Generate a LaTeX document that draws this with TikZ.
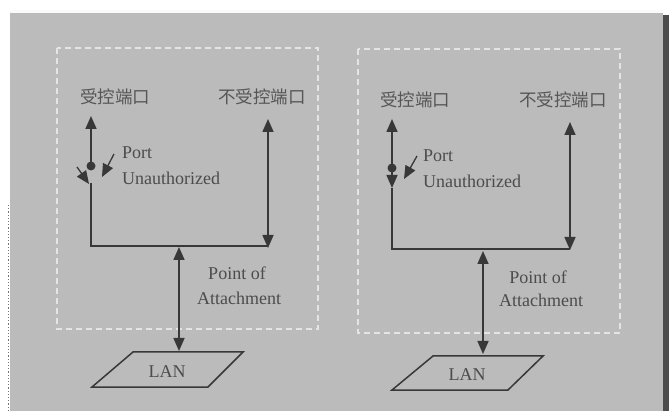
\documentclass[tikz,border=0pt]{standalone}
\usepackage{fontspec}
\setmainfont{Liberation Serif}
\newfontfamily\cjk{Noto Sans CJK SC}[Scale=1]
\usetikzlibrary{arrows.meta}
\definecolor{bg}{HTML}{BBBBBB}
\definecolor{ink}{HTML}{383838}
\definecolor{dashc}{HTML}{E4E4E4}
\tikzset{
  x=1pt, y=-1pt,
  ln/.style={draw=ink, line width=1.6pt},
  arr/.style={ln, -{Triangle[length=13pt,width=11pt]}},
  darr/.style={ln, {Triangle[length=13pt,width=11pt]}-{Triangle[length=13pt,width=11pt]}},
  sarr/.style={ln, line width=1.3pt, -{Triangle[length=13pt,width=11pt]}},
  zone/.style={draw=dashc, line width=1.2pt, dash pattern=on 6pt off 4pt},
  cn/.style={font=\cjk\fontsize{17.5}{17.5}\selectfont, text=ink!85, inner sep=0pt},
  en/.style={font=\fontsize{18}{20}\selectfont, text=ink!90, inner sep=0pt},
  dotn/.style={circle, fill=ink, inner sep=0pt, minimum size=9pt},
  lanbox/.style={draw=ink, line width=1.5pt}
}
\begin{document}
\begin{tikzpicture}
\useasboundingbox (0,0) rectangle (669,411);
% background
\fill[bg] (10,12) rectangle (663,411);
\fill[white!92!bg] (10,10) rectangle (663,13);
\fill[ink!90] (663,15) rectangle (669,411);
\draw[ink!70, line width=1.2pt, dotted] (8.5,205) -- (8.5,411);

% ---------- left panel ----------
\draw[zone] (57,48) rectangle (318,329);
\node[cn] (Lc) at (115,97) {受控端口};
\node[cn] (Lu) at (262,97) {不受控端口};
\coordinate (LcTop) at (91,116);
\node[dotn] (Ldot) at (91,166) {};
\coordinate (LcLow) at (91,183);
\coordinate (LcBot) at (91,246);
\coordinate (LuTop) at (268,119);
\coordinate (LuBot) at (268,248);
\draw[arr] (Ldot.center) -- (LcTop);
\draw[ln] (LcLow) -- (LcBot) -- (268,246);
\draw[darr] (LuTop) -- (LuBot);
\coordinate (La1s) at (77,167);
\coordinate (La1e) at (89,184);
\draw[sarr] (La1s) -- (La1e);
\coordinate (La2s) at (114,154);
\coordinate (La2e) at (102,177);
\draw[sarr] (La2s) -- (La2e);
\node[en, anchor=west] (Lport) at (122,153) {Port};
\node[en, anchor=west] (Lunauth) at (122,178) {Unauthorized};
\coordinate (LpTop) at (179,247);
\coordinate (LpBot) at (179,351);
\draw[darr] (LpTop) -- (LpBot);
\node[en] (Lpoint) at (237,273) {Point of};
\node[en] (Lattach) at (239,298) {Attachment};
\coordinate (Lp1) at (133,352);
\coordinate (Lp2) at (243,352);
\coordinate (Lp3) at (208,387);
\coordinate (Lp4) at (92,387);
\draw[lanbox] (Lp1) -- (Lp2) -- (Lp3) -- (Lp4) -- cycle;
\node[en] (Llan) at (167,372) {LAN};

% ---------- right panel ----------
\draw[zone] (358,49) rectangle (620,333);
\node[cn] (Rc) at (415,100) {受控端口};
\node[cn] (Ru) at (563,100) {不受控端口};
\coordinate (RcTop) at (392,119);
\node[dotn] (Rdot) at (392,168) {};
\coordinate (RcMid) at (392,188);
\coordinate (RcBot) at (392,249);
\coordinate (RuTop) at (570,122);
\coordinate (RuBot) at (570,250);
\draw[arr] (Rdot.center) -- (RcTop);
\draw[arr] (Rdot.center) -- (RcMid);
\draw[ln] (RcMid) -- (RcBot) -- (570,249);
\draw[darr] (RuTop) -- (RuBot);
\coordinate (Ra2s) at (417,156);
\coordinate (Ra2e) at (404,179);
\draw[sarr] (Ra2s) -- (Ra2e);
\node[en, anchor=west] (Rport) at (423,156) {Port};
\node[en, anchor=west] (Runauth) at (423,181) {Unauthorized};
\coordinate (RpTop) at (483,251);
\coordinate (RpBot) at (483,354);
\draw[darr] (RpTop) -- (RpBot);
\node[en] (Rpoint) at (538,277) {Point of};
\node[en] (Rattach) at (541,300) {Attachment};
\coordinate (Rp1) at (433,356);
\coordinate (Rp2) at (543,356);
\coordinate (Rp3) at (508,390);
\coordinate (Rp4) at (392,390);
\draw[lanbox] (Rp1) -- (Rp2) -- (Rp3) -- (Rp4) -- cycle;
\node[en] (Rlan) at (467,375) {LAN};
\end{tikzpicture}
\end{document}
